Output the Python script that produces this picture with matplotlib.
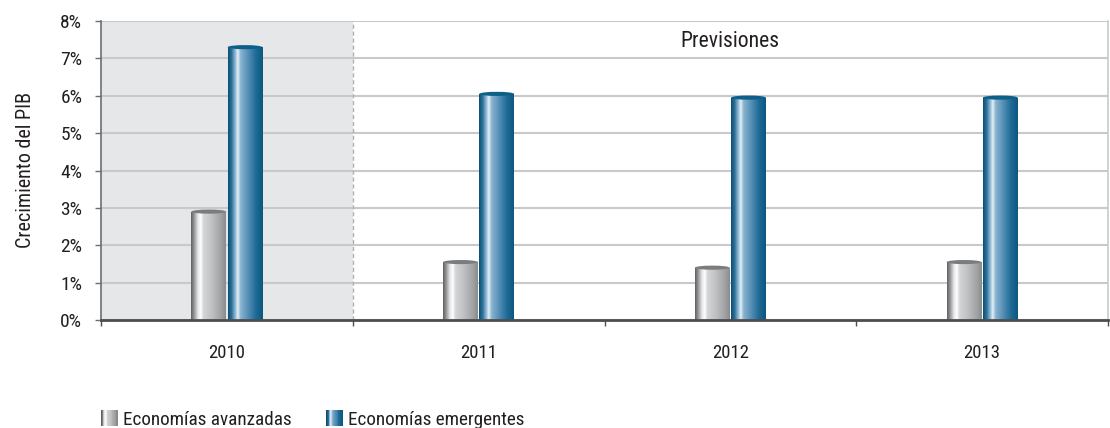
import matplotlib
matplotlib.use("Agg")
import matplotlib.pyplot as plt
import numpy as np
from matplotlib.colors import LinearSegmentedColormap
from matplotlib.patches import Ellipse, Rectangle
from matplotlib.legend_handler import HandlerBase
from matplotlib.ticker import FuncFormatter
from matplotlib import font_manager

years = ["2010", "2011", "2012", "2013"]
avanzadas = [2.9, 1.55, 1.4, 1.55]
emergentes = [7.3, 6.05, 5.95, 5.95]
series_names = ["Economías avanzadas", "Economías emergentes"]
yticks = [0, 1, 2, 3, 4, 5, 6, 7, 8]

# choose a condensed font if available
names = {f.name for f in font_manager.fontManager.ttflist}
stretch = 'normal'
family = 'DejaVu Sans'
for cand in ['Roboto Condensed', 'Liberation Sans Narrow', 'Open Sans Condensed', 'Noto Sans Condensed']:
    if cand in names:
        family = cand
        break
else:
    if any(f.name == 'DejaVu Sans' and 'Condensed' in f.fname for f in font_manager.fontManager.ttflist):
        stretch = 'condensed'
plt.rcParams['font.family'] = [family, 'DejaVu Sans']
plt.rcParams['font.stretch'] = stretch

gray_cmap = LinearSegmentedColormap.from_list("g", [
    (0.0, "#5f6062"), (0.08, "#8e8f91"), (0.2, "#e6e7e8"), (0.28, "#ffffff"),
    (0.36, "#d4d5d7"), (0.6, "#bfc0c2"), (0.85, "#a2a3a5"), (1.0, "#8a8b8d")])
blue_cmap = LinearSegmentedColormap.from_list("b", [
    (0.0, "#0a4f72"), (0.1, "#2a6f98"), (0.22, "#9cc2da"), (0.28, "#e4f0f7"),
    (0.36, "#8ab4d0"), (0.55, "#5b93b9"), (0.8, "#1f6b97"), (1.0, "#0b5780")])

fig = plt.figure(figsize=(11.1, 4.28), dpi=100)
ax = fig.add_axes([101/1110, 108/428, 1007/1110, 299/428])

x = np.arange(len(years))
w = 0.138
ax.set_xlim(-0.5, len(years) - 0.5)
ax.set_ylim(0, 8)

ax.axvspan(-0.5, 0.5, color="#e6e7e8", zorder=0, lw=0)
ax.axvline(0.5, color="#b0b1b3", lw=1, ls=(0, (3, 2)), zorder=1)

grad = np.linspace(0, 1, 256).reshape(1, -1)
def cyl(bars, cmap, topc):
    for b in bars:
        x0 = b.get_x(); bw = b.get_width(); h = b.get_height()
        im = ax.imshow(grad, extent=[x0, x0 + bw, 0, h], aspect='auto', cmap=cmap, zorder=3)
        im.set_clip_path(b)
        e = Ellipse((x0 + bw/2, h), bw, 0.11, facecolor=topc, edgecolor='none', zorder=4)
        ax.add_patch(e)

b1 = ax.bar(x - w/2 - 0.003, avanzadas, w, facecolor='none', edgecolor='none', zorder=3)
b2 = ax.bar(x + w/2 + 0.003, emergentes, w, facecolor='none', edgecolor='none', zorder=3)
cyl(b1, gray_cmap, "#7b7c7e")
cyl(b2, blue_cmap, "#0d5f87")
ax.set_aspect('auto')
ax.set_xlim(-0.5, len(years) - 0.5)
ax.set_ylim(0, 8)

ax.set_yticks(yticks)
ax.yaxis.set_major_formatter(FuncFormatter(lambda v, p: f"{int(v)}%"))
ax.yaxis.grid(True, color="#c8c9cb", lw=1.5, zorder=1)
ax.set_axisbelow(True)
ax.tick_params(axis='y', length=4.5, width=1, color="#6d6e70", labelsize=14, pad=9, labelcolor="#231f20")

ax.set_xticks(np.arange(-0.5, len(years)), minor=False)
ax.set_xticklabels([])
ax.tick_params(axis='x', length=4.5, width=1, color="#4d4d4f")
ax.set_xticks(x, minor=True)
ax.set_xticklabels(years, minor=True)
ax.tick_params(axis='x', which='minor', length=0, labelsize=13.5, pad=17, labelcolor="#231f20")

ax.spines["top"].set_visible(False)
ax.spines["right"].set_color("#c8c9cb")
ax.spines["right"].set_linewidth(1.2)
ax.spines["left"].set_color("#6d6e70")
ax.spines["left"].set_linewidth(1.2)
ax.spines["bottom"].set_color("#4d4d4f")
ax.spines["bottom"].set_linewidth(2)
ax.spines["bottom"].set_zorder(5)

ax.set_ylabel("Crecimiento del PIB", fontsize=14.5, color="#231f20", labelpad=18)
ax.text(2, 7.45, "Previsiones", ha='center', va='center', fontsize=15.7, color="#231f20")

class GradHandler(HandlerBase):
    def __init__(self, cmap):
        super().__init__()
        self.cmap = cmap
    def create_artists(self, legend, orig, xd, yd, width, height, fontsize, trans):
        n = 20
        arts = []
        for i in range(n):
            r = Rectangle((xd + width*i/n, yd - 1), width/n + 0.3, height + 2,
                          facecolor=self.cmap(i/(n-1)), edgecolor='none', transform=trans)
            arts.append(r)
        return arts

h1 = Rectangle((0, 0), 1, 1)
h2 = Rectangle((0, 0), 1, 1)
fig.legend([h1, h2], series_names, loc='center left', bbox_to_anchor=(101/1110, 8/428),
           ncol=2, frameon=False, fontsize=13.8, handlelength=0.85, handleheight=0.7,
           handletextpad=0.3, columnspacing=1.8, borderpad=0, borderaxespad=0,
           handler_map={h1: GradHandler(gray_cmap), h2: GradHandler(blue_cmap)},
           labelcolor="#231f20")

fig.savefig("out.png", dpi=100)
